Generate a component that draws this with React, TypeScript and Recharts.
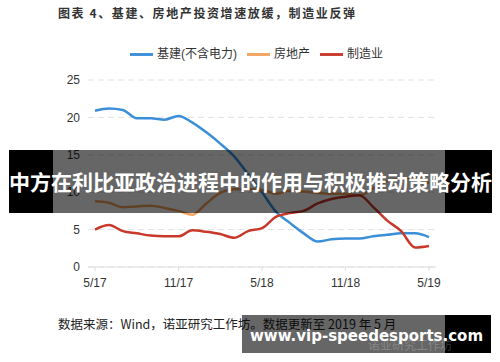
import { LineChart, Line, XAxis, YAxis, CartesianGrid, Legend } from "recharts";

// monthly, May 2017 – May 2019 (Jan points sit between Dec and Feb)
const months = [
  "5/17", "6/17", "7/17", "8/17", "9/17", "10/17", "11/17", "12/17",
  "1/18", "2/18", "3/18", "4/18", "5/18", "6/18", "7/18", "8/18",
  "9/18", "10/18", "11/18", "12/18", "1/19", "2/19", "3/19", "4/19", "5/19",
];
const infra = [
  20.9, 21.2, 21.0, 19.9, 19.9, 19.7, 20.2, 19.3, 18.0, 16.5, 14.8, 12.4,
  10.0, 7.4, 5.9, 4.5, 3.4, 3.7, 3.8, 3.8, 4.1, 4.3, 4.5, 4.5, 4.0,
];
const realEstate = [
  8.8, 8.6, 8.0, 8.1, 8.2, 7.9, 7.5, 7.0, 8.5, 9.9, 10.4, 10.4,
  10.3, 9.8, 10.2, 10.1, 9.9, 9.8, 9.8, 9.6, 10.5, 11.5, 11.8, 11.9, 11.2,
];
const manufacturing = [
  5.0, 5.6, 4.8, 4.5, 4.2, 4.1, 4.1, 4.9, 4.7, 4.4, 3.9, 4.8,
  5.2, 6.7, 7.2, 7.5, 8.5, 9.1, 9.4, 9.6, 8.0, 6.2, 4.8, 2.6, 2.8,
];
const seriesNames = ["基建(不含电力)", "房地产", "制造业"];
const yTicks = [0, 5, 10, 15, 20, 25];

const data = months.map((m, i) => ({
  m,
  infra: infra[i],
  realEstate: realEstate[i],
  manufacturing: manufacturing[i],
}));

const font = '"Liberation Sans", Arial, "Noto Sans CJK SC", sans-serif';
const cjk = '"Noto Sans CJK SC", "Liberation Sans", sans-serif';

export default function App() {
  return (
    <div
      style={{
        position: "absolute",
        left: 0,
        top: 0,
        width: 500,
        height: 362,
        background: "#fff",
        overflow: "hidden",
        fontFamily: font,
      }}
    >
      <div
        style={{
          position: "absolute",
          left: 58,
          top: 4,
          fontSize: 12,
          fontWeight: 700,
          letterSpacing: 1.6,
          color: "#333",
          whiteSpace: "nowrap",
          fontFamily: cjk,
        }}
      >
        图表 4、基建、房地产投资增速放缓，制造业反弹
      </div>

      <LineChart
        width={500}
        height={362}
        data={data}
        margin={{ top: 80, right: 64, bottom: 65, left: 0 }}
      >
        <CartesianGrid vertical={false} stroke="#e2e2e2" strokeDasharray="6 4" />
        <XAxis
          dataKey="m"
          interval={5}
          height={30}
          padding={{ left: 7, right: 7 }}
          axisLine={{ stroke: "#ddd" }}
          tickLine={{ stroke: "#ddd" }}
          tickSize={4}
          tickMargin={7}
          tick={{ fontSize: 12, fill: "#333" }}
        />
        <YAxis
          domain={[0, 25]}
          ticks={yTicks}
          width={88}
          axisLine={false}
          tickLine={false}
          tick={{ fontSize: 12, fill: "#333" }}
        />
        <Legend
          layout="horizontal"
          verticalAlign="middle"
          align="center"
          iconType="plainline"
          iconSize={23}
          itemSorter={(item) => seriesNames.indexOf(item.value)}
          wrapperStyle={{ top: 43, left: 5, width: 513, fontSize: 12 }}
          formatter={(v) => <span style={{ color: "#333" }}>{v}</span>}
        />
        <Line
          type="monotone"
          dataKey="infra"
          name={seriesNames[0]}
          stroke="#3b8fd9"
          strokeWidth={2.5}
          dot={false}
          isAnimationActive={false}
        />
        <Line
          type="monotone"
          dataKey="realEstate"
          name={seriesNames[1]}
          stroke="#f2a35e"
          strokeWidth={2.5}
          dot={false}
          isAnimationActive={false}
        />
        <Line
          type="monotone"
          dataKey="manufacturing"
          name={seriesNames[2]}
          stroke="#c9392b"
          strokeWidth={2.5}
          dot={false}
          isAnimationActive={false}
        />
      </LineChart>

      <div
        style={{
          position: "absolute",
          left: 58,
          top: 314,
          fontSize: 12.5,
          color: "#222",
          whiteSpace: "nowrap",
          fontFamily: cjk,
        }}
      >
        数据来源：Wind，诺亚研究工作坊。数据更新至 2019 年 5 月
      </div>

      {/* banner overlay */}
      <div style={{ position: "absolute", left: 9, top: 150, width: 44, height: 63, background: "#000" }} />
      <div style={{ position: "absolute", left: 53, top: 150, width: 392, height: 63, background: "rgba(0,0,0,0.6)" }} />
      <div style={{ position: "absolute", left: 445, top: 150, width: 47, height: 63, background: "#000" }} />
      <div
        style={{
          position: "absolute",
          left: 9,
          top: 150,
          width: 483,
          height: 63,
          lineHeight: "63px",
          textAlign: "center",
          color: "#fff",
          fontSize: 21,
          fontWeight: 700,
          whiteSpace: "nowrap",
          fontFamily: cjk,
        }}
      >
        中方在利比亚政治进程中的作用与积极推动策略分析
      </div>

      {/* watermark */}
      <div style={{ position: "absolute", left: 242, top: 315, width: 203, height: 38, background: "rgba(0,0,0,0.6)" }} />
      <div style={{ position: "absolute", left: 445, top: 315, width: 46, height: 38, background: "#000" }} />
      <div
        style={{
          position: "absolute",
          left: 368,
          top: 336,
          fontSize: 12,
          color: "rgba(255,255,255,0.22)",
          whiteSpace: "nowrap",
          fontFamily: cjk,
        }}
      >
        诺亚研究工作坊
      </div>
      <div
        style={{
          position: "absolute",
          left: 242,
          top: 317,
          width: 249,
          height: 38,
          lineHeight: "38px",
          textAlign: "center",
          color: "#fff",
          fontSize: 15,
          fontWeight: 700,
          whiteSpace: "nowrap",
          fontFamily: '"DejaVu Sans", sans-serif',
        }}
      >
        www.vip-speedesports.com
      </div>
    </div>
  );
}
